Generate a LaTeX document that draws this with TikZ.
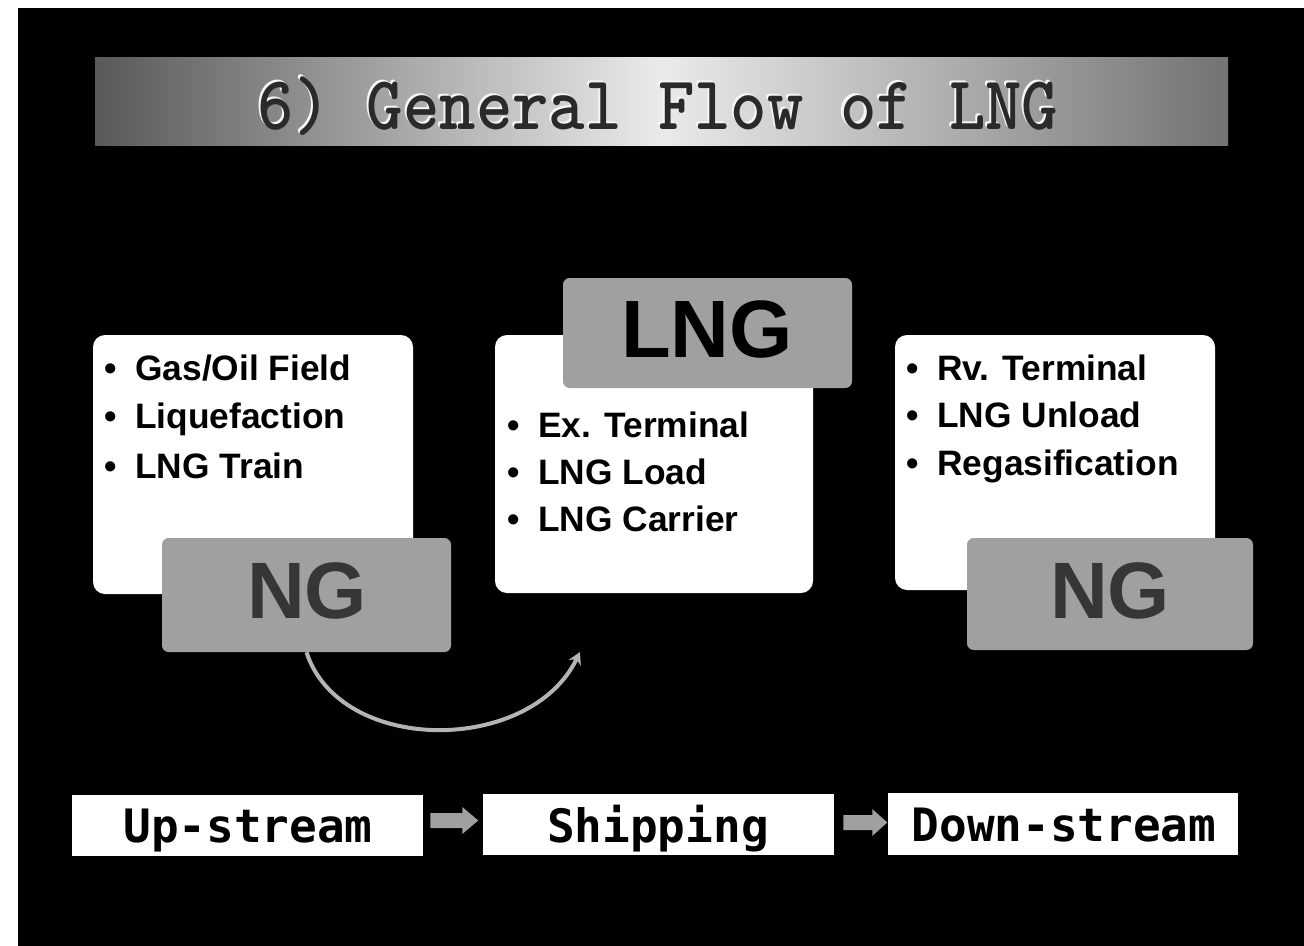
\documentclass[tikz,border=0pt]{standalone}
\usepackage{graphicx}
\usepackage{fontspec}
\setmainfont{Liberation Sans}
\newfontfamily\monofont{DejaVu Sans Mono}
\usetikzlibrary{fit,calc,arrows.meta}
\definecolor{halftone}{HTML}{A0A0A0}
\definecolor{ngtext}{HTML}{363636}
\definecolor{titledark}{HTML}{2A2A2A}
\definecolor{arcgray}{HTML}{B4B4B4}
\newcommand\bul{\makebox[23.25pt][l]{\textbullet}}
\tikzset{
  panel/.style={inner sep=0pt, fill=white, rounded corners=9pt},
  tagbox/.style={inner sep=0pt, fill=halftone, rounded corners=5pt},
  item/.style={anchor=base west, inner sep=0pt, font=\bfseries\fontsize{26.5}{32}\selectfont},
  bigtxt/.style={inner sep=0pt, font=\bfseries\fontsize{60}{70}\selectfont},
  stagebox/.style={inner sep=0pt, fill=white},
  stagetxt/.style={anchor=base, inner sep=0pt, font=\monofont\bfseries\fontsize{34.5}{40}\selectfont},
  blockarrow/.style={fill=halftone},
  arcline/.style={draw=arcgray, line width=3pt, -{Stealth[length=9pt,width=10pt]}},
  titletxt/.style={anchor=base, inner sep=0pt, font=\ttfamily\bfseries\fontsize{52}{56}\selectfont}
}
\begin{document}
\begin{tikzpicture}[x=0.75pt,y=-0.75pt]
\useasboundingbox (0,0) rectangle (1304,946);
\fill[white] (0,0) rectangle (1304,946);
\fill[black] (18,8) rectangle (1304,946);

% title banner
\node[fit={(95,57) (1228,145)}, inner sep=0pt, left color=black!65, right color=black!55, middle color=black!8] (banner) {};
\node[titletxt, text=white!92!gray] (titleshadow) at (656,127) {\scalebox{1}[1.1]{6) General Flow of LNG}};
\node[titletxt, text=titledark] (title) at (658,129) {\scalebox{1}[1.1]{6) General Flow of LNG}};

% panels
\node[panel, fit={(93,335) (413,594)}] (left) {};
\node[panel, fit={(495,335) (813,593)}] (mid) {};
\node[panel, fit={(895,335) (1215,590)}] (right) {};

% left items
\node[item] (l1) at (104,380) {\bul Gas/Oil Field};
\node[item] (l2) at (104,428) {\bul Liquefaction};
\node[item] (l3) at (104,478) {\bul LNG Train};
% middle items
\node[item] (m1) at (507,437) {\bul Ex. Terminal};
\node[item] (m2) at (507,484) {\bul LNG Load};
\node[item] (m3) at (507,531) {\bul LNG Carrier};
% right items
\node[item] (r1) at (906,380) {\bul Rv. Terminal};
\node[item] (r2) at (906,427) {\bul LNG Unload};
\node[item] (r3) at (906,475) {\bul Regasification};

% gray tags
\node[tagbox, fit={(162,538) (451,652)}] (ngL) {};
\node[bigtxt, text=ngtext] (ngLt) at (307,591) {NG};
\node[tagbox, fit={(563,278) (852,388)}] (lng) {};
\node[bigtxt, text=black, font=\bfseries\fontsize{61}{70}\selectfont] (lngt) at (707,329) {LNG};
\node[tagbox, fit={(967,538) (1253,650)}] (ngR) {};
\node[bigtxt, text=ngtext] (ngRt) at (1110,591) {NG};

% arc
\coordinate (arcend) at (580,652);
\draw[arcline] (ngL.south) .. controls (340,755) and (530,755) .. (arcend);

% stages
\node[stagebox, fit={(72,795) (423,856)}] (up) {};
\node[stagebox, fit={(483,794) (834,855)}] (ship) {};
\node[stagebox, fit={(888,793) (1238,855)}] (down) {};
\node[stagetxt] (upt) at (248,842) {Up-stream};
\node[stagetxt] (shipt) at (658,842) {Shipping};
\node[stagetxt] (downt) at (1064,841) {Down-stream};

% block arrows between stages
\coordinate (a1) at ($(up.east)+(7,-5)$);
\coordinate (a2) at ($(ship.east)+(9,-2)$);
\fill[blockarrow] (a1) ++(0,-7.5) -- ++(32,0) -- ++(0,-6) -- ++(16,13.5) -- ++(-16,13.5) -- ++(0,-6) -- ++(-32,0) -- cycle;
\fill[blockarrow] (a2) ++(0,-7.5) -- ++(29,0) -- ++(0,-6) -- ++(15,13.5) -- ++(-15,13.5) -- ++(0,-6) -- ++(-29,0) -- cycle;
\end{tikzpicture}
\end{document}
